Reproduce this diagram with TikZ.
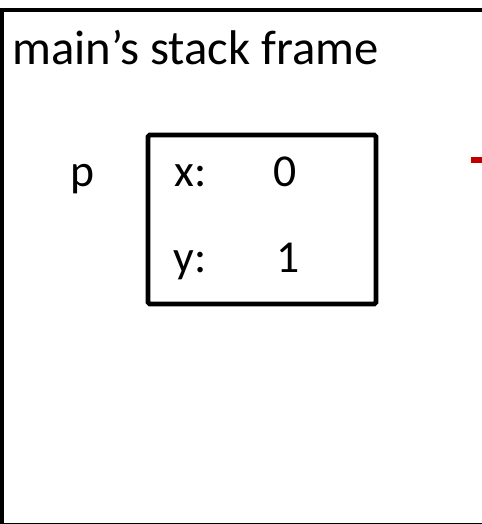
\documentclass[tikz,border=0pt]{standalone}
\usepackage{fontspec}
\setmainfont{Carlito}
\usepackage{xcolor}
\usetikzlibrary{positioning, calc}
\definecolor{ptrred}{RGB}{192, 0, 0}

\begin{document}
\begin{tikzpicture}[
				x=0.02cm, y=-0.02cm,
				frame/.style={draw=black, line width=2.8pt},
				membox/.style={rectangle, draw=black, line width=2.8pt, rounded corners=1pt, minimum width=228*0.02cm, minimum height=169*0.02cm, inner sep=0pt},
				lbl/.style={anchor=base west, inner sep=0pt, font=\fontsize{27.7}{32}\selectfont},
				val/.style={anchor=base west, inner sep=0pt, font=\fontsize{26}{30}\selectfont},
				ptr/.style={draw=ptrred, line width=3.4pt}
				]
				\useasboundingbox (0,0) rectangle (481,524);
				
				% Stack frame of main (runs off the right edge)
				\node[rectangle, frame, minimum width=494*0.02cm, minimum height=515.8*0.02cm, inner sep=0pt, anchor=north west] (stack) at (-0.5,7.5) {};
				\node[lbl] (title) at (12,64) {main’s stack frame};
				
				% Variable p and its struct
				\node[val] (pname) at (70,186) {p};
				\node[membox] (pbox) at (262,219.5) {};
				\node[val] (xname) at (174,186) {x:};
				\node[val] (xval) at (273,186) {0};
				\node[val] (yname) at (173,272) {y:};
				\node[val] (yval) at (276,272) {1};
				
				% Red pointer stub at the right edge
				\coordinate (ptrstart) at (471,160);
				\coordinate (ptrend) at (495,160);
				\draw[ptr] (ptrstart) -- (ptrend);
			\end{tikzpicture}
\end{document}
